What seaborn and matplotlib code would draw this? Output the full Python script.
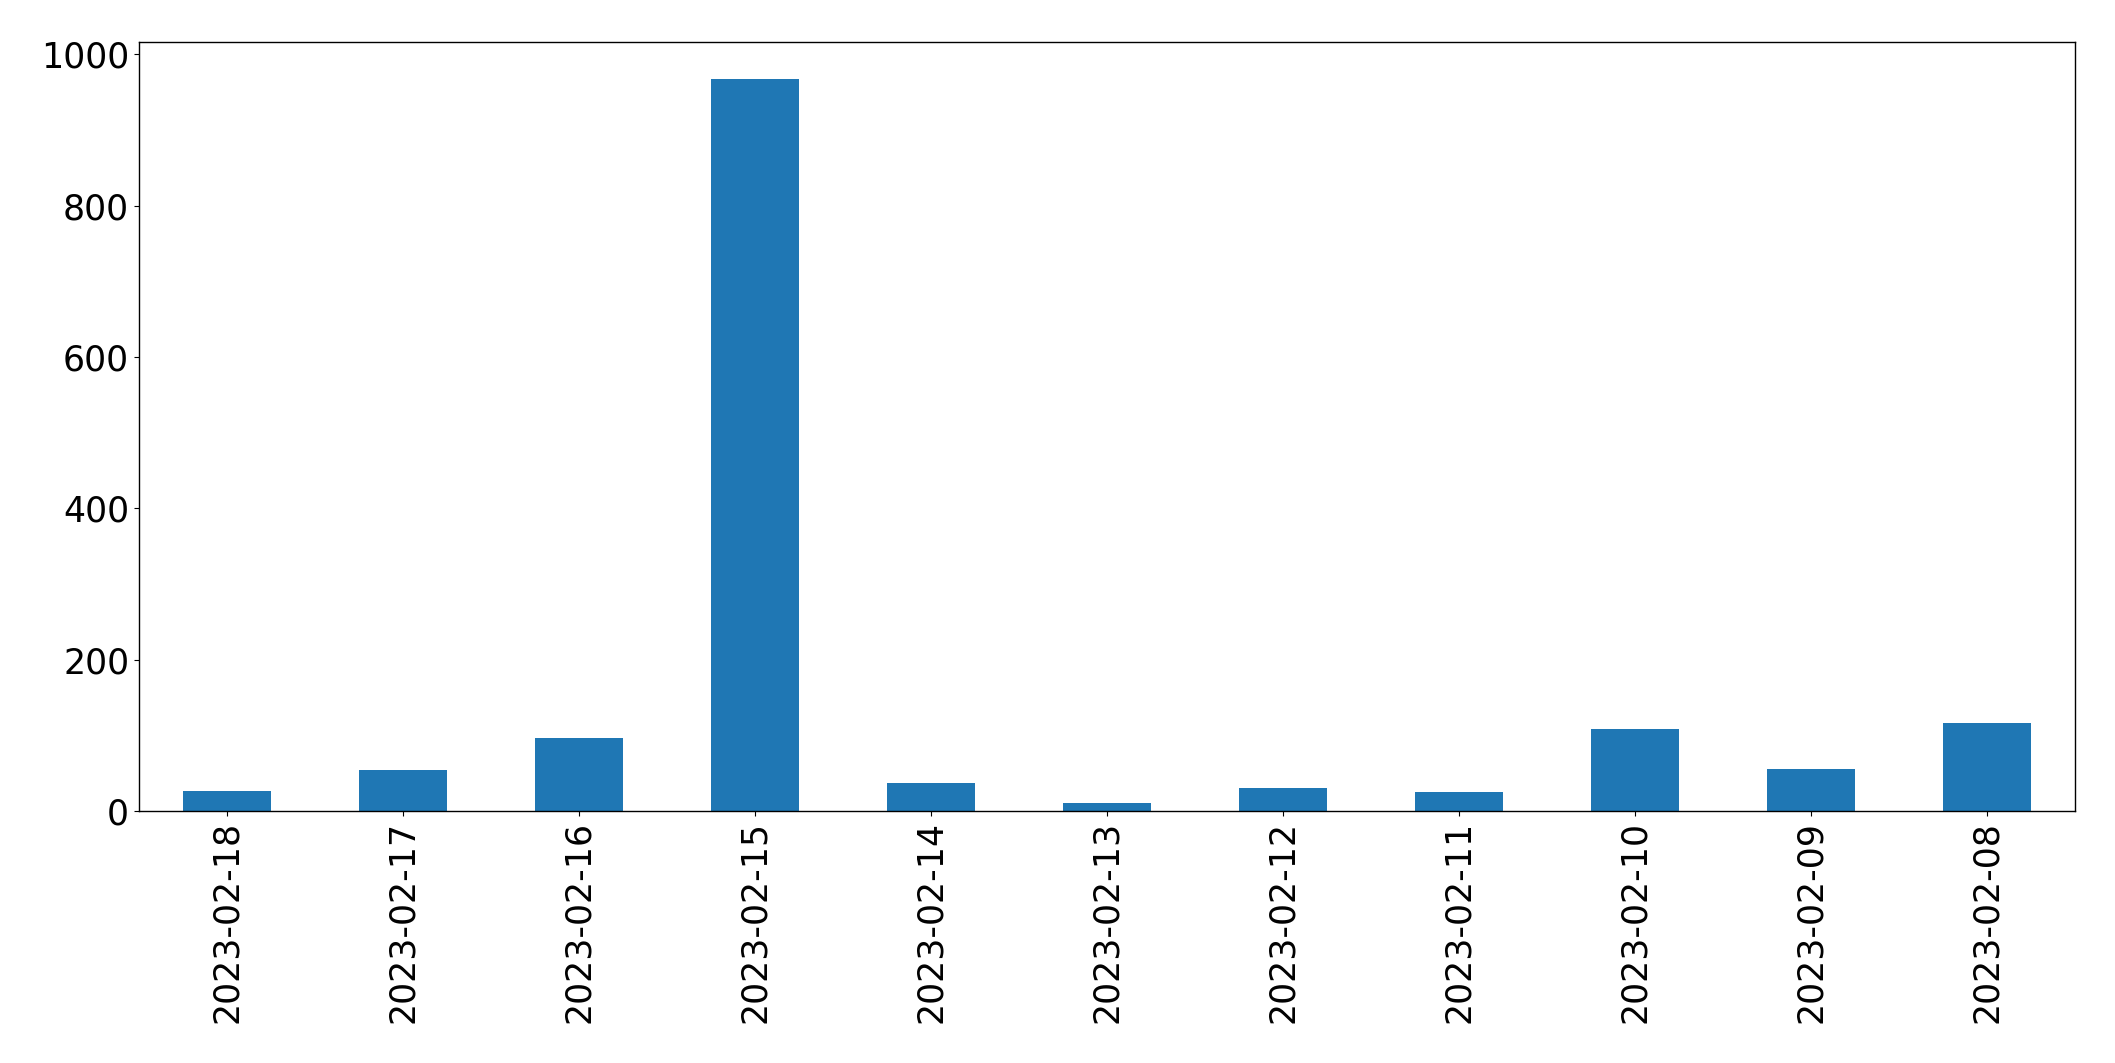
import matplotlib
matplotlib.use("Agg")
import matplotlib.pyplot as plt
import seaborn as sns
import pandas as pd

# Daily counts, newest first (as in the original chart)
dates = ["2023-02-18", "2023-02-17", "2023-02-16", "2023-02-15", "2023-02-14",
         "2023-02-13", "2023-02-12", "2023-02-11", "2023-02-10", "2023-02-09",
         "2023-02-08"]
counts = [26, 54, 96, 968, 37, 11, 30, 25, 109, 55, 116]

df = pd.DataFrame({"date": dates, "count": counts})

plt.rcParams["font.family"] = ["DejaVu Sans"]

fig, ax = plt.subplots(figsize=(21.15, 10.63), dpi=100)
fig.subplots_adjust(left=0.0657, right=0.981, top=0.9605, bottom=0.237)

sns.barplot(data=df, x="date", y="count", order=dates, color="#1f77b4",
            saturation=1, width=0.5, linewidth=0, ax=ax)

ax.set_xlim(-0.5, len(dates) - 0.5)
ax.set_ylim(0, max(counts) * 1.05)
ax.set_xlabel("")
ax.set_ylabel("")
ax.tick_params(axis="both", labelsize=25, color="black")
ax.tick_params(axis="x", labelrotation=90)
for spine in ax.spines.values():
    spine.set_color("black")
    spine.set_linewidth(1.0)
ax.grid(False)

plt.savefig("out.png", dpi=100)
